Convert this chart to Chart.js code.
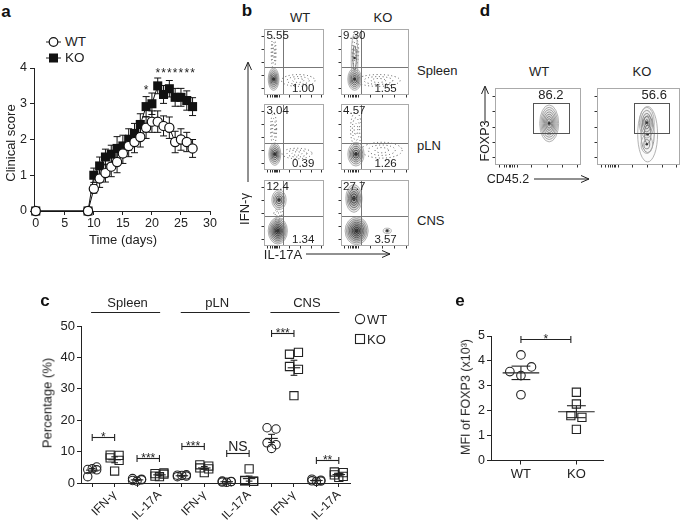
<!DOCTYPE html>
<html>
<head>
<meta charset="utf-8">
<title>Clinical score, IFN-γ / IL-17A and FOXP3 panels</title>
<script src="https://cdn.jsdelivr.net/npm/chart.js@4.4.1/dist/chart.umd.min.js"></script>
<style>
  body { margin: 0; background: #fff; }
  #fig { position: relative; width: 685px; height: 524px; overflow: hidden;
         font-family: "Liberation Sans", Arial, Helvetica, sans-serif; color: #222; }
  #fig canvas { position: absolute; }
  #fig svg { position: absolute; left: 0; top: 0; }
  .t { position: absolute; white-space: nowrap; line-height: 1; }
  .panel { font-weight: bold; font-size: 17px; color: #111; }
</style>
</head>
<body>
<div id="fig">
  <svg width="685" height="524" fill="none" stroke="#222" stroke-width="1">
    <!-- legend a -->
    <line x1="46" y1="42" x2="61" y2="42"/>
    <circle cx="53.5" cy="42" r="4.3" fill="#fff" stroke="#111" stroke-width="1.2"/>
    <line x1="46" y1="58" x2="61" y2="58"/>
    <rect x="49" y="53.5" width="9" height="9" fill="#111" stroke="none"/>
    <!-- axis arrows b -->
    <line x1="248" y1="182" x2="248" y2="63"/>
    <path d="M244.5,70 L248,62 L251.5,70"/>
    <line x1="306" y1="254" x2="390" y2="254"/>
    <path d="M382,250.5 L390,254 L382,257.5"/>
    <!-- axis arrows d -->
    <line x1="485" y1="122" x2="485" y2="87"/>
    <path d="M481.5,94 L485,86 L488.5,94"/>
    <line x1="534" y1="179" x2="589" y2="179"/>
    <path d="M581,175.5 L589,179 L581,182.5"/>
    <!-- legend c -->
    <circle cx="360" cy="319" r="4.6" stroke-width="1.1"/>
    <rect x="355.5" y="334.5" width="9" height="9" stroke-width="1.1"/>
  </svg>
</div>
<script>
// ---------- panel a: clinical score ----------
const days = [0, 9, 10, 11, 12, 13, 14, 15, 16, 17, 18, 19, 20, 21, 22, 23, 24, 25, 26, 27];
const wtScore = [0, 0, 0.62, 0.91, 1.06, 1.24, 1.37, 1.61, 1.82, 1.93, 2.07, 2.33, 2.5, 2.5, 2.38, 2.33, 1.93, 2.0, 1.93, 1.75];
const wtSem = [0, 0, 0.12, 0.25, 0.25, 0.28, 0.3, 0.28, 0.3, 0.3, 0.28, 0.3, 0.3, 0.3, 0.28, 0.3, 0.3, 0.3, 0.27, 0.25];
const koScore = [0, 0, 1.0, 1.26, 1.51, 1.59, 1.75, 1.82, 2.0, 2.17, 2.42, 2.92, 3.0, 3.5, 3.26, 3.42, 3.18, 3.18, 3.09, 2.92];
const koSem = [0, 0, 0.2, 0.25, 0.22, 0.25, 0.33, 0.3, 0.3, 0.28, 0.3, 0.28, 0.3, 0.22, 0.25, 0.23, 0.25, 0.25, 0.27, 0.25];
const dayTicks = [0, 5, 10, 15, 20, 25, 30];
const starDays = [19, 21, 22, 23, 24, 25, 26, 27];
const starLevel = [3.45, 3.93, 3.93, 3.93, 3.93, 3.93, 3.93, 3.93];

// ---------- panel b: IFN-γ / IL-17A flow ----------
const flowRows = ['Spleen', 'pLN', 'CNS'];
const ifnWT = ['5.55', '3.04', '12.4'];
const ifnKO = ['9.30', '4.57', '27.7'];
const il17WT = ['1.00', '0.39', '1.34'];
const il17KO = ['1.55', '1.26', '3.57'];
const gateXWT = 32, gateXKO = 29;
const gateYRow = [42, 41, 45];
// contour blobs [x, y, rx, ry, levels, darkest grey, fill alpha]
const blobsWT = [
  [[16, 24, 9, 17, 6, 45, 0.07]],
  [[18, 24, 10, 17, 6, 40, 0.07]],
  [[25, 70, 12, 15, 5, 70, 0.08], [23, 23, 16, 20, 8, 25, 0.11]]
];
const blobsKO = [
  [[20, 24, 10, 17, 6, 45, 0.07], [20, 56, 5, 37, 2, 100, 0.02]],
  [[22, 24, 12, 18, 6, 40, 0.07]],
  [[19, 72, 12, 21, 6, 35, 0.1], [23, 23, 17, 21, 8, 25, 0.11], [68, 23, 6, 4, 2, 130, 0]]
];
// sparse events [x, y, rx, ry]
const cloudsWT = [[[16, 64, 4, 24], [57, 22, 28, 9]], [[16, 62, 5, 24], [55, 25, 25, 8]], [[24, 47, 8, 9]]];
const cloudsKO = [[[21, 66, 5, 22], [55, 22, 32, 9]], [[22, 62, 8, 26], [60, 30, 30, 12]], []];

// ---------- panel c: percentages ----------
const cGroups = ['Spleen', 'pLN', 'CNS'];
const cLabels = ['IFN-γ', 'IL-17A', 'IFN-γ', 'IL-17A', 'IFN-γ', 'IL-17A'];
const cWT = [[4.3, 4.2, 2.0, 5.1, 4.5], [1.4, 1.0, 0.8, 1.2, 0.6], [2.5, 2.2, 2.0, 2.6, 2.4],
             [0.6, 0.4, 0.3, 0.5, 0.2], [17.6, 17.2, 12.8, 12.2, 11.0], [1.2, 0.9, 0.7, 0.6, 0.5]];
const cKO = [[8.9, 8.8, 8.0, 7.2, 3.8], [3.0, 2.8, 2.2, 3.2, 2.0], [5.8, 5.4, 4.8, 4.5, 3.3],
             [0.8, 0.6, 0.7, 0.5, 4.5], [41.0, 41.6, 37.1, 36.2, 27.8], [3.5, 3.3, 2.6, 2.1, 1.8]];
const cJit = [-0.2, 0.2, -0.2, 0.2, 0];
const cWTMean = [4.1, 1.0, 2.3, 0.4, 14.2, 0.8];
const cWTSem = [0.55, 0.15, 0.12, 0.08, 1.3, 0.12];
const cKOMean = [7.4, 2.6, 4.8, 1.4, 36.7, 2.7];
const cKOSem = [0.95, 0.25, 0.45, 0.8, 2.4, 0.35];
const cSig = ['*', '***', '***', 'NS', '***', '**'];
const cSigY = [14.6, 7.9, 11.9, 9.5, 47.9, 7.4];

// ---------- panel d: FOXP3 ----------
const foxPct = ['86.2', '56.6'];
const foxGate = [44, 86, 41, 80];
const foxBlobs = [
  [[63, 54, 11, 24, 8, 110, 0.03]],
  [[61, 40, 12, 36, 3, 120, 0.02], [60, 55, 9, 20, 5, 100, 0.03], [60, 27, 7, 12, 2, 130, 0.02]]
];

// ---------- panel e: FOXP3 MFI ----------
const eGroups = ['WT', 'KO'];
const eWT = [4.24, 3.57, 3.76, 3.41, 2.64];
const eWTJit = [0, -0.2, 0.19, 0, 0];
const eKO = [2.74, 2.27, 1.8, 1.73, 1.25];
const eKOJit = [0, 0, -0.1, 0.1, 0];
const eMean = [3.52, 1.96];
const eSem = [0.27, 0.24];

Chart.defaults.font.family = '"Liberation Sans", Arial, Helvetica, sans-serif';
Chart.defaults.color = '#222';
Chart.defaults.animation = false;
Chart.defaults.plugins.legend.display = false;
Chart.defaults.plugins.tooltip.enabled = false;

const fig = document.getElementById('fig');

function mount(left, top, w, h) {
  const cv = document.createElement('canvas');
  cv.width = w; cv.height = h;
  cv.style.left = left + 'px'; cv.style.top = top + 'px';
  cv.style.width = w + 'px'; cv.style.height = h + 'px';
  fig.appendChild(cv);
  return cv;
}

function txt(s, x, y, size, how) {
  const e = document.createElement('div');
  e.className = 't';
  e.textContent = s;
  e.style.left = x + 'px';
  e.style.top = y + 'px';
  e.style.fontSize = size + 'px';
  if (how === 'rot') e.style.transform = 'translate(-50%,-50%) rotate(-90deg)';
  else if (how === 'left') e.style.transform = 'translate(0,-50%)';
  else e.style.transform = 'translate(-50%,-50%)';
  fig.appendChild(e);
  return e;
}

function seg(ctx, x1, y1, x2, y2) {
  ctx.beginPath(); ctx.moveTo(x1, y1); ctx.lineTo(x2, y2); ctx.stroke();
}

const axisLine = { color: '#222', width: 1 };
const tickGrid = { drawOnChartArea: false, tickLength: 4, color: '#222' };

// error bars + asterisks for panel a
const errPlugin = {
  id: 'errbars',
  beforeDatasetsDraw(chart, args, o) {
    const { ctx } = chart, y = chart.scales.y;
    ctx.save();
    ctx.strokeStyle = '#111'; ctx.lineWidth = 1;
    chart.data.datasets.forEach((ds, di) => {
      chart.getDatasetMeta(di).data.forEach((pt, i) => {
        const e = ds.sem[i];
        if (!e) return;
        const hi = y.getPixelForValue(ds.data[i].y + e), lo = y.getPixelForValue(ds.data[i].y - e);
        seg(ctx, pt.x, hi, pt.x, lo);
        seg(ctx, pt.x - o.cap, hi, pt.x + o.cap, hi);
        seg(ctx, pt.x - o.cap, lo, pt.x + o.cap, lo);
      });
    });
    ctx.restore();
  },
  afterDatasetsDraw(chart, args, o) {
    const { ctx, scales: { x, y } } = chart;
    ctx.save();
    ctx.fillStyle = '#222'; ctx.font = '12px "Liberation Sans", Arial';
    ctx.textAlign = 'center'; ctx.textBaseline = 'alphabetic';
    starDays.forEach((d, i) => ctx.fillText('*', x.getPixelForValue(d), y.getPixelForValue(starLevel[i]) + 6));
    ctx.restore();
  }
};

// mean ± SEM, significance brackets, group headers (panels c, e)
const statPlugin = {
  id: 'stats',
  afterDatasetsDraw(chart, args, o) {
    const { ctx, chartArea, scales: { x, y } } = chart;
    const X = v => x.getPixelForValue(v), Y = v => y.getPixelForValue(v);
    ctx.save();
    ctx.strokeStyle = '#222'; ctx.fillStyle = '#222'; ctx.lineWidth = 1.1;
    o.means.forEach(m => {
      seg(ctx, X(m.x - o.hw), Y(m.mean), X(m.x + o.hw), Y(m.mean));
      seg(ctx, X(m.x), Y(m.mean - m.sem), X(m.x), Y(m.mean + m.sem));
      seg(ctx, X(m.x - o.cw), Y(m.mean + m.sem), X(m.x + o.cw), Y(m.mean + m.sem));
      seg(ctx, X(m.x - o.cw), Y(m.mean - m.sem), X(m.x + o.cw), Y(m.mean - m.sem));
    });
    ctx.textAlign = 'center'; ctx.textBaseline = 'alphabetic';
    o.brackets.forEach(b => {
      const yy = Math.round(Y(b.y)) + 0.5;
      seg(ctx, X(b.x1), yy, X(b.x2), yy);
      seg(ctx, X(b.x1), yy - 3.5, X(b.x1), yy + 3.5);
      seg(ctx, X(b.x2), yy - 3.5, X(b.x2), yy + 3.5);
      const ns = b.text === 'NS';
      ctx.font = (ns ? 14 : 12) + 'px "Liberation Sans", Arial';
      ctx.fillText(b.text, (X(b.x1) + X(b.x2)) / 2, yy - (ns ? 2.5 : -3));
    });
    (o.headers || []).forEach(h => {
      const ly = chartArea.top - 13.5;
      seg(ctx, X(h.x1), ly, X(h.x2), ly);
      ctx.font = '13px "Liberation Sans", Arial';
      ctx.textBaseline = 'middle';
      ctx.fillText(h.text, X((h.x1 + h.x2) / 2) + 2, chartArea.top - 23);
    });
    ctx.restore();
  }
};

// flow cytometry plot: contours, sparse events, gates, box, ticks, percentages
const flowPlugin = {
  id: 'flow',
  beforeDatasetsDraw(chart, args, o) {
    const { ctx, chartArea: a, scales: { x, y } } = chart;
    const X = v => x.getPixelForValue(v), Y = v => y.getPixelForValue(v);
    ctx.save();
    ctx.beginPath(); ctx.rect(a.left, a.top, a.width, a.height); ctx.clip();
    ctx.lineWidth = 1; ctx.strokeStyle = '#555'; ctx.setLineDash([1, 2.6]);
    (o.clouds || []).forEach(c => {
      [1, 0.66, 0.33].forEach(k => {
        ctx.beginPath();
        ctx.ellipse(X(c[0]), Y(c[1]), (X(c[0] + c[2]) - X(c[0])) * k, (Y(c[1]) - Y(c[1] + c[3])) * k, 0, 0, 2 * Math.PI);
        ctx.stroke();
      });
    });
    ctx.setLineDash([]);
    ctx.lineWidth = 0.9;
    (o.blobs || []).forEach(b => {
      const [cx, cy, rx, ry, n, dark, fa] = b;
      for (let i = 0; i < n; i++) {
        const k = 1 - i / n;
        const g = Math.round(170 - (170 - dark) * (n > 1 ? i / (n - 1) : 1));
        ctx.beginPath();
        ctx.ellipse(X(cx), Y(cy), (X(cx + rx) - X(cx)) * k, (Y(cy) - Y(cy + ry)) * k, 0, 0, 2 * Math.PI);
        ctx.fillStyle = 'rgba(40,40,40,' + fa + ')';
        ctx.fill();
        ctx.strokeStyle = 'rgb(' + g + ',' + g + ',' + g + ')';
        ctx.stroke();
      }
    });
    ctx.restore();
  },
  afterDatasetsDraw(chart, args, o) {
    const { ctx, chartArea: a, scales: { x, y } } = chart;
    const X = v => x.getPixelForValue(v), Y = v => y.getPixelForValue(v);
    ctx.save();
    ctx.lineWidth = 1;
    ctx.strokeStyle = '#777';
    if (o.gateX != null) seg(ctx, Math.round(X(o.gateX)) + 0.5, a.top, Math.round(X(o.gateX)) + 0.5, a.bottom);
    if (o.gateY != null) seg(ctx, a.left, Math.round(Y(o.gateY)) + 0.5, a.right, Math.round(Y(o.gateY)) + 0.5);
    if (o.rect) {
      ctx.strokeStyle = '#555';
      ctx.strokeRect(Math.round(X(o.rect[0])) + 0.5, Math.round(Y(o.rect[3])) + 0.5,
                     Math.round(X(o.rect[1]) - X(o.rect[0])), Math.round(Y(o.rect[2]) - Y(o.rect[3])));
    }
    ctx.strokeStyle = '#aaa';
    ctx.strokeRect(a.left + 0.5, a.top + 0.5, a.width - 1, a.height - 1);
    ctx.strokeStyle = '#333';
    [10, 30, 50, 70, 90].forEach(v => seg(ctx, a.left - 2.5, Math.round(Y(v)) + 0.5, a.left, Math.round(Y(v)) + 0.5));
    [5, 10, 13, 16, 18, 20, 22, 25, 42, 60, 78, 95].forEach(v => seg(ctx, Math.round(X(v)) + 0.5, a.bottom, Math.round(X(v)) + 0.5, a.bottom + 2.5));
    ctx.fillStyle = '#222';
    ctx.font = o.font || '11.5px "Liberation Sans", Arial';
    ctx.textBaseline = 'middle';
    (o.labels || []).forEach(l => {
      ctx.textAlign = l[3];
      ctx.fillText(l[0], X(l[1]), Y(l[2]));
    });
    ctx.restore();
  }
};

function flowChart(left, top, w, h, opts) {
  const centers = (opts.blobs || []).map(b => ({ x: b[0], y: b[1] }));
  return new Chart(mount(left - 3, top, w + 3, h + 3), {
    type: 'scatter',
    data: { datasets: [{ data: centers, pointRadius: 1.3, pointBackgroundColor: '#333', pointBorderWidth: 0 }] },
    options: {
      responsive: false,
      layout: { padding: { left: 3, bottom: 3, top: 0, right: 0 } },
      scales: { x: { display: false, min: 0, max: 100 }, y: { display: false, min: 0, max: 100 } },
      plugins: { flow: opts }
    },
    plugins: [flowPlugin]
  });
}

// ---------- panel a ----------
new Chart(mount(0, 55, 220, 195), {
  type: 'line',
  data: {
    datasets: [
      { label: 'WT', data: days.map((d, i) => ({ x: d, y: wtScore[i] })), sem: wtSem,
        borderColor: '#111', borderWidth: 1, pointStyle: 'circle', pointRadius: 4.6,
        pointBackgroundColor: '#fff', pointBorderColor: '#111', pointBorderWidth: 1.2, clip: false },
      { label: 'KO', data: days.map((d, i) => ({ x: d, y: koScore[i] })), sem: koSem,
        borderColor: '#111', borderWidth: 1, pointStyle: 'rect', pointRadius: 6.4,
        pointBackgroundColor: '#111', pointBorderColor: '#111', pointBorderWidth: 0, clip: false }
    ]
  },
  options: {
    responsive: false,
    layout: { padding: { top: 13, right: 10, left: 0, bottom: 0 } },
    scales: {
      x: { type: 'linear', min: -0.3, max: 30,
           afterBuildTicks: s => { s.ticks = dayTicks.map(v => ({ value: v })); },
           afterFit: s => { s.height = 39; },
           border: axisLine, grid: tickGrid,
           ticks: { font: { size: 12.5 }, padding: 1, maxRotation: 0 } },
      y: { min: 0, max: 4,
           afterFit: s => { s.width = 34; },
           border: axisLine, grid: tickGrid,
           ticks: { stepSize: 1, font: { size: 12.5 }, padding: 3 } }
    },
    plugins: { errbars: { cap: 3.5 } }
  },
  plugins: [errPlugin]
});

// ---------- panel b ----------
const flowColX = [263, 340], flowColW = [65, 73], flowRowY = [25, 100, 176], flowRowH = 71;
flowRows.forEach((r, i) => {
  flowChart(flowColX[0], flowRowY[i], flowColW[0], flowRowH, {
    blobs: blobsWT[i], clouds: cloudsWT[i], gateX: gateXWT, gateY: gateYRow[i],
    labels: [[ifnWT[i], 4, 89, 'left'], [il17WT[i], 84, 10, 'right']]
  });
  flowChart(flowColX[1], flowRowY[i], flowColW[1], flowRowH, {
    blobs: blobsKO[i], clouds: cloudsKO[i], gateX: gateXKO, gateY: gateYRow[i],
    labels: [[ifnKO[i], 3, 89, 'left'], [il17KO[i], 82, 10, 'right']]
  });
});

// ---------- panel c ----------
const cWTPts = [], cKOPts = [];
cWT.forEach((vals, g) => vals.forEach((v, j) => cWTPts.push({ x: 2 * g + cJit[j], y: v })));
cKO.forEach((vals, g) => vals.forEach((v, j) => cKOPts.push({ x: 2 * g + 1 + cJit[j], y: v })));
const cMeans = [];
cLabels.forEach((l, g) => {
  cMeans.push({ x: 2 * g, mean: cWTMean[g], sem: cWTSem[g] });
  cMeans.push({ x: 2 * g + 1, mean: cKOMean[g], sem: cKOSem[g] });
});

new Chart(mount(0, 285, 360, 239), {
  type: 'scatter',
  data: {
    datasets: [
      { label: 'WT', data: cWTPts, pointStyle: 'circle', pointRadius: 4.2,
        pointBackgroundColor: 'rgba(255,255,255,0)', pointBorderColor: '#222', pointBorderWidth: 1.1, clip: false },
      { label: 'KO', data: cKOPts, pointStyle: 'rect', pointRadius: 5.8,
        pointBackgroundColor: 'rgba(255,255,255,0)', pointBorderColor: '#222', pointBorderWidth: 1.1, clip: false }
    ]
  },
  options: {
    responsive: false,
    layout: { padding: { top: 41, right: 10, left: 0, bottom: 0 } },
    scales: {
      x: { type: 'linear', min: -0.5, max: 11.5,
           afterBuildTicks: s => { s.ticks = cLabels.flatMap((l, g) => [{ value: 2 * g }, { value: 2 * g + 1 }]); },
           afterFit: s => { s.height = 41; },
           border: axisLine, grid: tickGrid,
           ticks: { autoSkip: false, minRotation: 45, maxRotation: 45, padding: 1, font: { size: 12 },
                    callback: (v, i) => (i % 2 === 1 ? cLabels[(i - 1) / 2] : '') } },
      y: { min: 0, max: 50,
           afterFit: s => { s.width = 81; },
           border: axisLine, grid: tickGrid,
           ticks: { stepSize: 10, font: { size: 13 }, padding: 2 } }
    },
    plugins: {
      stats: {
        hw: 0.28, cw: 0.15, means: cMeans,
        brackets: cSig.map((s, g) => ({ x1: 2 * g, x2: 2 * g + 1, y: cSigY[g], text: s })),
        headers: cGroups.map((t, k) => ({ x1: 4 * k - 0.05, x2: 4 * k + 3.03, text: t }))
      }
    }
  },
  plugins: [statPlugin]
});

// ---------- panel d ----------
flowChart(494, 84, 91, 82, {
  blobs: foxBlobs[0], rect: foxGate, labels: [[foxPct[0], 65, 91, 'center']], font: '13px "Liberation Sans", Arial'
});
flowChart(596, 84, 88, 82, {
  blobs: foxBlobs[1], rect: foxGate, labels: [[foxPct[1], 69, 91, 'center']], font: '13px "Liberation Sans", Arial'
});

// ---------- panel e ----------
new Chart(mount(440, 300, 245, 224), {
  type: 'scatter',
  data: {
    datasets: [
      { label: 'WT', data: eWT.map((v, j) => ({ x: eWTJit[j], y: v })), pointStyle: 'circle', pointRadius: 4.3,
        pointBackgroundColor: 'rgba(255,255,255,0)', pointBorderColor: '#222', pointBorderWidth: 1.1, clip: false },
      { label: 'KO', data: eKO.map((v, j) => ({ x: 1 + eKOJit[j], y: v })), pointStyle: 'rect', pointRadius: 5.8,
        pointBackgroundColor: 'rgba(255,255,255,0)', pointBorderColor: '#222', pointBorderWidth: 1.1, clip: false }
    ]
  },
  options: {
    responsive: false,
    layout: { padding: { top: 36, right: 82, left: 0, bottom: 0 } },
    scales: {
      x: { type: 'linear', min: -0.54, max: 1.48,
           afterBuildTicks: s => { s.ticks = eGroups.map((g, i) => ({ value: i })); },
           afterFit: s => { s.height = 63.5; },
           border: axisLine, grid: tickGrid,
           ticks: { font: { size: 13 }, padding: 2, maxRotation: 0, callback: (v, i) => eGroups[i] } },
      y: { min: 0, max: 5,
           afterFit: s => { s.width = 51; },
           border: axisLine, grid: tickGrid,
           ticks: { stepSize: 1, font: { size: 12.5 }, padding: 2 } }
    },
    plugins: {
      stats: {
        hw: 0.33, cw: 0.17,
        means: eMean.map((m, i) => ({ x: i, mean: m, sem: eSem[i] })),
        brackets: [{ x1: 0, x2: 0.9, y: 4.87, text: '*' }]
      }
    }
  },
  plugins: [statPlugin]
});

// ---------- text ----------
[['a', 6, 11], ['b', 247, 10], ['c', 45, 300], ['d', 485, 10], ['e', 460, 300]].forEach(p => {
  txt(p[0], p[1], p[2], 17).classList.add('panel');
});
txt('Clinical score', 10, 143, 13, 'rot');
txt('Time (days)', 123, 239, 13);
txt('WT', 65, 42, 13.5, 'left');
txt('KO', 65, 58, 13.5, 'left');

txt('WT', 300, 17, 13);
txt('KO', 383, 17, 13);
flowRows.forEach((r, i) => txt(r, 417, [70, 145, 220][i], 13, 'left'));
txt('IFN-γ', 244, 209, 13, 'rot');
txt('IL-17A', 283, 254, 13);

txt('Percentage (%)', 47, 403, 13, 'rot');
txt('WT', 367, 319, 13, 'left');
txt('KO', 367, 339, 13, 'left');

txt('WT', 539, 71, 13);
txt('KO', 642, 71, 13);
txt('FOXP3', 485, 141, 12.5, 'rot');
txt('CD45.2', 508, 179, 12.5);

txt('MFI of FOXP3 (x10³)', 466, 397, 12.5, 'rot');
</script>
</body>
</html>
